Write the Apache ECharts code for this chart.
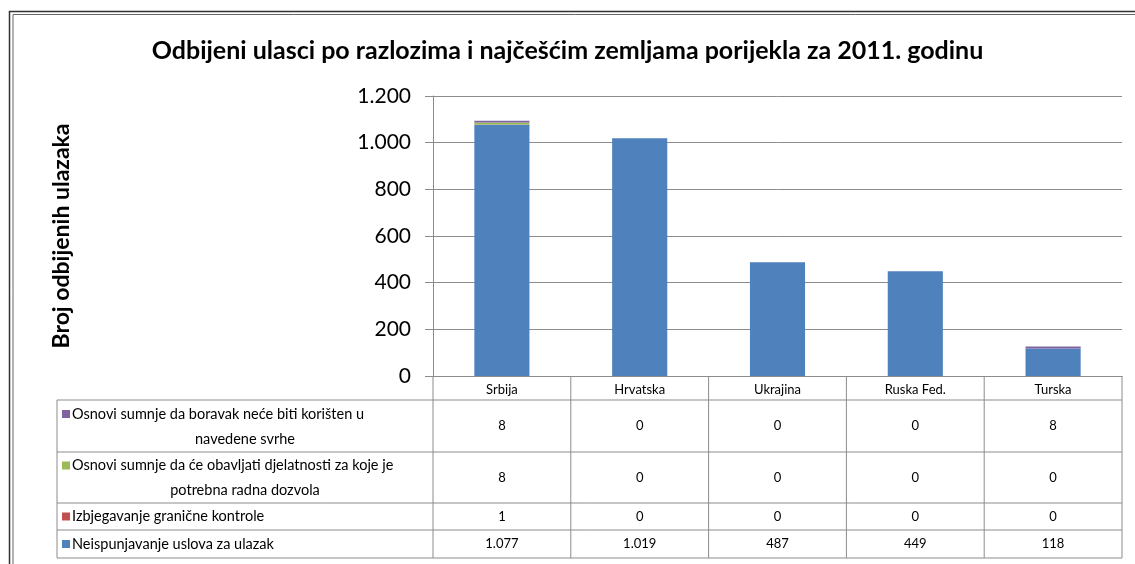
<!DOCTYPE html>
<html>
<head>
<meta charset="utf-8">
<script src="https://cdn.jsdelivr.net/npm/echarts@6/dist/echarts.min.js"></script>
<style>
  html, body { margin: 0; padding: 0; background: #fff; }
  #container { width: 1135px; height: 564px; }
</style>
</head>
<body>
<div id="container"></div>
<script>
  var categories = ['Srbija', 'Hrvatska', 'Ukrajina', 'Ruska Fed.', 'Turska'];
  var yTicks = [0, 200, 400, 600, 800, 1000, 1200];

  // stacked from the bottom up
  var neispunjavanje = [1077, 1019, 487, 449, 118];
  var izbjegavanje = [1, 0, 0, 0, 0];
  var radnaDozvola = [8, 0, 0, 0, 0];
  var boravak = [8, 0, 0, 0, 8];

  var names = [
    'Neispunjavanje uslova za ulazak',
    'Izbjegavanje granične kontrole',
    'Osnovi sumnje da će obavljati djelatnosti za koje je potrebna radna dozvola',
    'Osnovi sumnje da boravak neće biti korišten u navedene svrhe'
  ];
  var colors = ['#4F81BD', '#C0504D', '#9BBB59', '#8064A2'];

  var FONT = 'Lato, "Open Sans", sans-serif';
  var LINE = '#8c8c8c';

  function fmt(v) {
    return String(v).replace(/\B(?=(\d{3})+(?!\d))/g, '.');
  }

  var dom = document.getElementById('container');
  var myChart = echarts.init(dom, null, { renderer: 'canvas', useDirtyRect: false });

  var option = {
    animation: false,
    textStyle: { fontFamily: FONT },
    title: {
      text: 'Odbijeni ulasci po razlozima i najčešćim zemljama porijekla za 2011. godinu',
      left: 'center',
      top: 33,
      textStyle: { fontFamily: FONT, fontSize: 25, fontWeight: 'bold', color: '#000' }
    },
    grid: { left: 433, right: 13, top: 96, bottom: 188 },
    xAxis: {
      type: 'category',
      data: categories,
      axisLine: { lineStyle: { color: LINE } },
      axisTick: { show: false },
      axisLabel: { fontSize: 13, color: '#000', margin: 7 }
    },
    yAxis: {
      type: 'value',
      min: yTicks[0],
      max: yTicks[yTicks.length - 1],
      interval: 200,
      name: 'Broj odbijenih ulazaka',
      nameLocation: 'middle',
      nameGap: 360,
      nameRotate: 90,
      nameTextStyle: { fontFamily: FONT, fontSize: 23, fontWeight: 'bold', color: '#000' },
      axisLine: { show: true, lineStyle: { color: LINE } },
      axisTick: { show: true, length: 8, lineStyle: { color: LINE } },
      splitLine: { lineStyle: { color: LINE } },
      axisLabel: { fontSize: 21, color: '#000', margin: 22, formatter: fmt }
    },
    series: [neispunjavanje, izbjegavanje, radnaDozvola, boravak].map(function (d, i) {
      return {
        name: names[i],
        type: 'bar',
        stack: 'total',
        barWidth: '40%',
        data: d,
        itemStyle: { color: colors[i] }
      };
    })
  };

  myChart.setOption(option);

  // data table under the plot, lined up with the category axis
  var centers = categories.map(function (c, i) {
    return myChart.convertToPixel({ xAxisIndex: 0 }, i);
  });
  var band = centers[1] - centers[0];
  var xLeft = centers[0] - band / 2;
  var xRight = centers[centers.length - 1] + band / 2;
  var yAxis0 = myChart.convertToPixel({ yAxisIndex: 0 }, 0);
  var tableLeft = 57;
  var rowTops = [400, 452, 503, 530, 558];

  var rows = [
    { lines: ['Osnovi sumnje da boravak neće biti korišten u', 'navedene svrhe'], data: boravak, color: colors[3] },
    { lines: ['Osnovi sumnje da će obavljati djelatnosti za koje je', 'potrebna radna dozvola'], data: radnaDozvola, color: colors[2] },
    { lines: ['Izbjegavanje granične kontrole'], data: izbjegavanje, color: colors[1] },
    { lines: ['Neispunjavanje uslova za ulazak'], data: neispunjavanje, color: colors[0] }
  ];

  var g = [];
  function line(x1, y1, x2, y2) {
    g.push({ type: 'line', shape: { x1: x1, y1: y1, x2: x2, y2: y2 }, style: { stroke: LINE, lineWidth: 1 }, silent: true });
  }
  function text(s, x, y, align, size) {
    g.push({ type: 'text', x: x, y: y, style: { text: s, font: (size || 13) + 'px ' + FONT, fill: '#000', textAlign: align, textVerticalAlign: 'middle' }, silent: true });
  }

  // outer frame
  g.push({ type: 'rect', shape: { x: 9.5, y: 11.5, width: 1200, height: 600 }, style: { fill: null, stroke: '#333', lineWidth: 1.5 }, silent: true });
  g.push({ type: 'rect', shape: { x: 13, y: 14.5, width: 1200, height: 600 }, style: { fill: null, stroke: '#666', lineWidth: 1 }, silent: true });

  // vertical lines
  line(xLeft, yAxis0, xLeft, rowTops[4]);
  for (var c = 1; c < categories.length; c++) line(xLeft + band * c, yAxis0, xLeft + band * c, rowTops[4]);
  line(xRight, yAxis0, xRight, rowTops[4]);
  line(tableLeft, rowTops[0], tableLeft, rowTops[4]);
  // horizontal lines
  rowTops.forEach(function (y) { line(tableLeft, y, xRight, y); });

  rows.forEach(function (r, ri) {
    var top = rowTops[ri], bot = rowTops[ri + 1];
    var mid = (top + bot) / 2;
    if (r.lines.length === 1) {
      g.push({ type: 'rect', shape: { x: 62, y: mid - 4, width: 8, height: 8 }, style: { fill: r.color }, silent: true });
      text(r.lines[0], 72, mid, 'left', 14.5);
    } else {
      var y1 = mid - 12, y2 = mid + 13;
      g.push({ type: 'rect', shape: { x: 62, y: y1 - 4, width: 8, height: 8 }, style: { fill: r.color }, silent: true });
      text(r.lines[0], 72, y1, 'left', 14.5);
      text(r.lines[1], (tableLeft + xLeft) / 2, y2, 'center', 14.5);
    }
    r.data.forEach(function (v, i) {
      text(fmt(v), centers[i], mid, 'center');
    });
  });

  myChart.setOption({ graphic: g });

  window.addEventListener('resize', myChart.resize);
</script>
</body>
</html>
